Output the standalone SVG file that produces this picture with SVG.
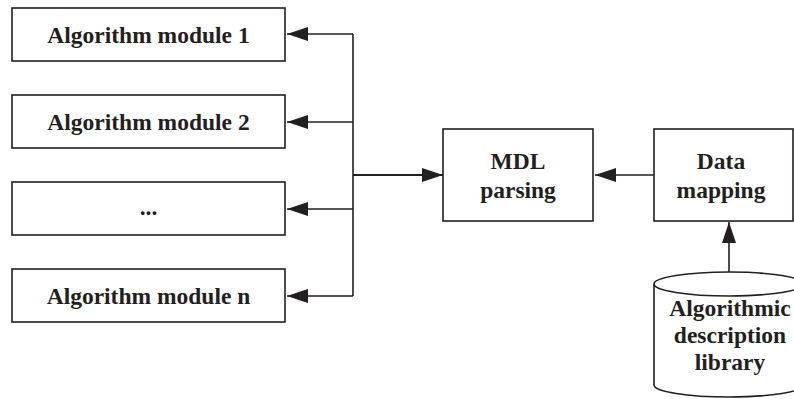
<svg xmlns="http://www.w3.org/2000/svg" width="794" height="399" viewBox="0 0 794 399">
<style>
.box{fill:#fff;stroke:#231f20;stroke-width:1.6}
.t{font-family:"Liberation Serif","Times New Roman",serif;font-weight:bold;font-size:23.5px;fill:#231f20;text-anchor:middle}
.ln{fill:none;stroke:#231f20;stroke-width:1.6}
</style>
<defs>
<marker id="ah" markerUnits="userSpaceOnUse" markerWidth="22" markerHeight="14" refX="21" refY="7" orient="auto">
<path d="M0,0 L21,7 L0,14 Z" fill="#231f20"/>
</marker>
</defs>
<rect width="794" height="399" fill="#fff"/>
<g id="connectors">
<path class="ln" d="M353,34 L353,296"/>
<path class="ln" d="M353,34 L287,34" marker-end="url(#ah)"/>
<path class="ln" d="M353,122 L287,122" marker-end="url(#ah)"/>
<path class="ln" d="M353,209 L287,209" marker-end="url(#ah)"/>
<path class="ln" d="M353,296 L287,296" marker-end="url(#ah)"/>
<path class="ln" d="M353,175 L443,175" style="stroke-width:2.2" marker-end="url(#ah)"/>
<path class="ln" d="M654,175 L595,175" marker-end="url(#ah)"/>
<path class="ln" d="M729,272 L729,222" marker-end="url(#ah)"/>
</g>
<g id="module1"><rect class="box" x="12" y="8" width="273" height="53"/><text class="t" x="148.5" y="43">Algorithm module 1</text></g>
<g id="module2"><rect class="box" x="12" y="95" width="273" height="53"/><text class="t" x="148.5" y="130">Algorithm module 2</text></g>
<g id="module3"><rect class="box" x="12" y="182" width="273" height="53"/><text class="t" x="148.5" y="215">...</text></g>
<g id="modulen"><rect class="box" x="12" y="269" width="273" height="53"/><text class="t" x="148.5" y="304">Algorithm module n</text></g>
<g id="mdl"><rect class="box" x="443" y="129" width="150" height="92"/><text class="t" x="518" y="169">MDL</text><text class="t" x="518" y="198">parsing</text></g>
<g id="datamap"><rect class="box" x="654" y="129" width="139" height="92"/><text class="t" x="721" y="169">Data</text><text class="t" x="721" y="198">mapping</text></g>
<g id="library">
<path class="box" d="M654,284 L654,385 A75,12 0 0 0 804,385 L804,284 A75,12 0 0 0 654,284 Z"/>
<path class="ln" d="M654,284 A75,12 0 0 0 804,284"/>
<text class="t" x="730" y="316">Algorithmic</text>
<text class="t" x="730" y="343">description</text>
<text class="t" x="730" y="370">library</text>
</g>
</svg>
